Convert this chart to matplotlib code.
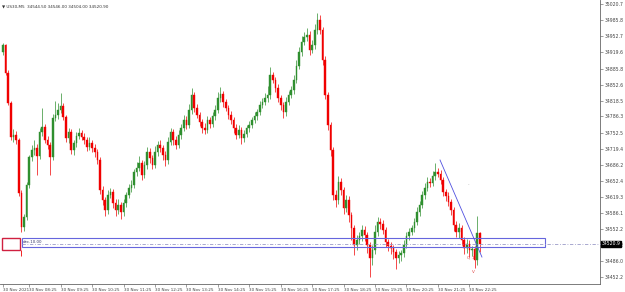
import matplotlib
matplotlib.use("Agg")
import matplotlib.pyplot as plt
from matplotlib.patches import Rectangle

symbol = "US30,M5"
header_ohlc = ["34544.50", "34546.00", "34504.00", "34520.90"]
first_open = 34920.0

closes = [
    34934.8, 34876.6, 34814.2, 34743.4, 34747.6, 34737.2, 34627.0, 34556.2, 34577.0, 34643.6,
    34701.8, 34716.4, 34720.6, 34703.9, 34753.8, 34764.2, 34737.2, 34726.8, 34701.8, 34783.0,
    34789.2, 34799.6, 34807.9, 34785.0, 34741.4, 34753.8, 34716.4, 34731.0, 34745.5, 34751.8,
    34743.4, 34737.2, 34722.6, 34731.0, 34720.6, 34712.2, 34695.6, 34633.2, 34612.4, 34591.6,
    34622.8, 34629.0, 34606.2, 34591.6, 34602.0, 34587.4, 34606.2, 34622.8, 34637.4, 34643.6,
    34670.6, 34679.0, 34689.4, 34664.4, 34685.2, 34712.2, 34699.8, 34685.2, 34712.2, 34726.8,
    34720.6, 34706.0, 34695.6, 34733.0, 34753.8, 34737.2, 34726.8, 34747.6, 34762.2, 34778.8,
    34768.4, 34799.6, 34830.8, 34803.8, 34789.2, 34774.6, 34762.2, 34758.0, 34778.8, 34770.5,
    34787.1, 34799.6, 34824.6, 34832.9, 34816.2, 34803.8, 34789.2, 34778.8, 34762.2, 34747.6,
    34758.0, 34741.4, 34749.7, 34762.2, 34768.4, 34778.8, 34787.1, 34795.4, 34810.0, 34816.2,
    34824.6, 34830.8, 34872.4, 34862.0, 34845.4, 34824.6, 34810.0, 34795.4, 34816.2, 34830.8,
    34841.2, 34862.0, 34891.1, 34920.2, 34941.0, 34951.4, 34955.6, 34924.4, 34934.8, 34966.0,
    34986.8, 34966.0, 34903.6, 34830.8, 34768.4, 34716.4, 34622.8, 34612.4, 34649.8, 34633.2,
    34595.8, 34612.4, 34581.2, 34554.2, 34518.8, 34529.2, 34537.5, 34550.0, 34539.6, 34518.8,
    34491.8, 34508.4, 34545.8, 34566.6, 34562.5, 34550.0, 34525.0, 34516.7, 34512.6, 34504.2,
    34491.8, 34498.0, 34502.2, 34518.8, 34537.5, 34545.8, 34554.2, 34566.6, 34587.4, 34602.0,
    34622.8, 34637.4, 34649.8, 34647.8, 34662.3, 34670.6, 34666.5, 34654.0, 34629.0, 34620.7,
    34608.2, 34591.6, 34560.4, 34545.8, 34554.2, 34529.2, 34512.6, 34520.9, 34508.4, 34510.5,
    34487.6, 34544.5, 34520.9,
]

upper_wick = [
    4, 3, 6, 4, 12, 8, 4, 6, 6, 6, 5, 10, 16, 8, 8, 40, 6, 8, 6, 8,
    30, 14, 28, 6, 4, 8, 6, 6, 8, 10, 6, 8, 6, 12, 6, 8, 6, 6, 8, 6,
    10, 8, 6, 8, 12, 6, 8, 6, 8, 10, 6, 12, 14, 6, 8, 10, 8, 6, 12, 8,
    10, 6, 8, 10, 8, 6, 8, 10, 8, 10, 8, 12, 14, 6, 8, 6, 6, 10, 8, 6,
    8, 10, 12, 14, 6, 6, 6, 8, 6, 8, 10, 6, 8, 6, 8, 6, 8, 6, 8, 8,
    10, 18, 16, 6, 6, 8, 6, 6, 10, 8, 8, 10, 12, 10, 12, 10, 14, 8, 10, 12,
    14, 10, 6, 8, 6, 6, 6, 10, 12, 8, 6, 10, 8, 6, 6, 10, 8, 10, 8, 6,
    6, 10, 14, 10, 8, 8, 6, 6, 8, 6, 6, 8, 6, 10, 8, 8, 6, 8, 10, 8,
    8, 10, 10, 8, 10, 18, 8, 8, 6, 6, 8, 6, 6, 8, 10, 6, 6, 10, 8, 6,
    6, 34, 1.5,
]

lower_wick = [
    6, 4, 4, 6, 10, 8, 6, 10, 8, 6, 6, 8, 10, 40, 6, 8, 6, 8, 38, 6,
    6, 8, 6, 6, 8, 10, 8, 10, 8, 6, 6, 8, 8, 6, 8, 10, 8, 8, 10, 12,
    8, 6, 10, 12, 8, 14, 8, 8, 6, 8, 6, 8, 6, 10, 6, 8, 10, 8, 6, 8,
    8, 10, 12, 8, 6, 10, 8, 6, 8, 6, 8, 6, 8, 8, 6, 8, 10, 8, 6, 8,
    6, 8, 6, 8, 10, 6, 8, 8, 10, 8, 6, 12, 8, 6, 8, 6, 6, 8, 6, 6,
    6, 8, 8, 6, 8, 8, 10, 12, 8, 6, 6, 8, 6, 6, 8, 6, 8, 10, 6, 8,
    8, 8, 10, 8, 10, 12, 10, 14, 8, 10, 12, 8, 14, 24, 20, 10, 8, 10, 12, 16,
    40, 14, 8, 8, 10, 8, 10, 10, 12, 14, 22, 10, 12, 8, 6, 8, 6, 8, 6, 8,
    6, 8, 6, 8, 6, 8, 6, 8, 8, 10, 8, 10, 12, 10, 12, 10, 12, 10, 14, 12,
    17, 10, 16.9,
]

y_tick_values = [35020.7, 34985.8, 34952.7, 34919.6, 34885.8, 34852.6, 34818.5, 34786.3,
                 34752.5, 34719.4, 34686.2, 34652.4, 34619.3, 34586.1, 34552.2, 34518.2,
                 34486.0, 34452.2]
x_tick_index = [0, 10, 22, 34, 46, 58, 70, 82, 94, 106, 118, 130, 142, 154, 166, 178]
x_tick_labels = ["30 Nov 2021", "30 Nov 08:25", "30 Nov 09:25", "30 Nov 10:25", "30 Nov 11:25",
                 "30 Nov 12:25", "30 Nov 13:25", "30 Nov 14:25", "30 Nov 15:25", "30 Nov 16:25",
                 "30 Nov 17:25", "30 Nov 18:25", "30 Nov 19:25", "30 Nov 20:25", "30 Nov 21:25",
                 "30 Nov 22:25"]
current_price = 34520.9

# drawn objects (price levels / indices)
zone_top, zone_bottom = 34533.4, 34514.6
zone_start, zone_end = 7.2, 206.9
level_line = 34520.9
trend_x = [166.8, 182.8]
trend_y = [34695.6, 34493.8]
marker_box = (-0.4, 6.5, 34508.4, 34533.4)
box_label = "dec.10.00"

n = len(closes)
assert len(upper_wick) == n and len(lower_wick) == n, (n, len(upper_wick), len(lower_wick))
opens = [first_open] + closes[:-1]
opens[-1] = 34544.5

fig = plt.figure(figsize=(6.25, 2.92), dpi=100)
fig.patch.set_facecolor("white")
ax = fig.add_axes([0, 1 - 284 / 292, 600 / 625, 284 / 292])
ax.set_facecolor("white")

GREEN = "#2f8f2f"
RED = "#f00000"
bw = 0.62
for i in range(n):
    o, c = opens[i], closes[i]
    hi = max(o, c) + upper_wick[i]
    lo = min(o, c) - lower_wick[i]
    col = GREEN if c >= o else RED
    ax.vlines(i, lo, hi, color=col, linewidth=0.5, zorder=2)
    h = abs(c - o)
    if h < 1.5:
        h = 1.5
    ax.add_patch(Rectangle((i - bw / 2, min(o, c)), bw, h, facecolor=col,
                           edgecolor=col, linewidth=0.3, zorder=3))

# zone rectangle and level line
ax.add_patch(Rectangle((zone_start, zone_bottom), zone_end - zone_start, zone_top - zone_bottom,
                       facecolor="none", edgecolor="#6666dd", linewidth=0.8, zorder=4))
ax.plot([zone_start, 230], [level_line, level_line], color="#9a9ac8", linewidth=0.6,
        linestyle=(0, (4, 2, 1, 2)), zorder=4, clip_on=False)
# red marker box
x0, x1, y0, y1 = marker_box
ax.add_patch(Rectangle((x0, y0), x1 - x0, y1 - y0, facecolor="none", edgecolor="#d02040",
                       linewidth=1.0, zorder=5))
ax.vlines(6.9, 34496.0, y0, color=RED, linewidth=0.6, zorder=5)
ax.text(7.6, (zone_top + zone_bottom) / 2 + 2, box_label, fontsize=2.8, color="#333366",
        va="center", ha="left", zorder=6)

# trend line
ax.plot(trend_x, trend_y, color="#5050e0", linewidth=0.6, zorder=5)

# small annotations
ax.text(177.5, 34491.8, "Q", fontsize=3, color="#e04040", ha="center", va="center", zorder=6)
ax.text(179.4, 34491.8, "1", fontsize=3, color="#e04040", ha="center", va="center", zorder=6)
ax.text(179.4, 34462.6, "V", fontsize=3, color="#e04040", ha="center", va="center", zorder=6)
ax.text(177.5, 34644.0, "-", fontsize=3, color="#888888", ha="center", va="center", zorder=6)

ax.set_xlim(-1.145, 227.86)
ax.set_ylim(34437.7, 35028.4)

for s in ["top", "left"]:
    ax.spines[s].set_visible(False)
ax.spines["right"].set_color("#666666")
ax.spines["bottom"].set_color("#666666")
ax.spines["right"].set_linewidth(0.6)
ax.spines["bottom"].set_linewidth(0.6)

ax.yaxis.tick_right()
ax.set_yticks(y_tick_values)
ax.set_yticklabels([f"{v:.1f}" for v in y_tick_values])
ax.tick_params(axis="y", labelsize=3.3, length=2, width=0.4, pad=1.5, colors="#555555",
               labelcolor="#444444")
ax.set_xticks(x_tick_index)
ax.set_xticklabels(x_tick_labels)
ax.tick_params(axis="x", labelsize=3.0, length=2, width=0.4, pad=1.2, colors="#555555",
               labelcolor="#444444")
for lbl in ax.get_xticklabels():
    lbl.set_ha("left")

# current price label
ax.text(1.003, current_price, f"{current_price:.1f}", transform=ax.get_yaxis_transform(),
        fontsize=3.3, color="white", ha="left", va="center", zorder=10, clip_on=False,
        bbox=dict(boxstyle="square,pad=0.15", facecolor="black", edgecolor="black"))

# header
fig.text(0.003, 0.985, "\u25bc " + symbol + "  " + " ".join(header_ohlc), fontsize=3.0,
         color="#333333", ha="left", va="top")

fig.savefig("out.png", dpi=100, facecolor="white")
